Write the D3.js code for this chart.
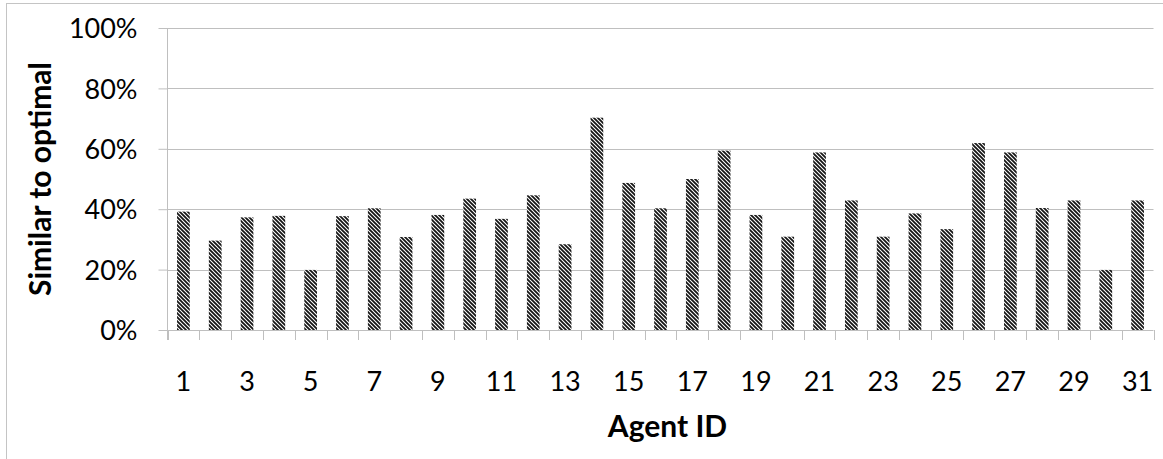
<!DOCTYPE html>
<html>
<head>
<meta charset="utf-8">
<script src="https://cdn.jsdelivr.net/npm/d3@7"></script>
<style>
  html, body { margin: 0; padding: 0; background: #fff; }
  svg { display: block; }
</style>
</head>
<body>
<svg id="chart" width="1163" height="459"></svg>
<script>
// Agent IDs and share of decisions similar to the optimal one
const agentIds = d3.range(1, 32);
const similarity = [0.392, 0.296, 0.373, 0.378, 0.199, 0.377, 0.403, 0.308, 0.381, 0.435,
                    0.368, 0.446, 0.284, 0.703, 0.487, 0.403, 0.500, 0.594, 0.381, 0.309,
                    0.588, 0.429, 0.309, 0.386, 0.334, 0.619, 0.588, 0.404, 0.429, 0.199, 0.429];
const yTicks = [0, 0.2, 0.4, 0.6, 0.8, 1.0];
const xLabelIds = agentIds.filter(d => d % 2 === 1);

const svg = d3.select("#chart");
const W = 1163, H = 459;
const plot = { left: 167.5, right: 1153.5, top: 28, bottom: 330 };
const font = "Lato, 'Open Sans', sans-serif";
const gridColor = "#bfbfbf";

// chart frame
svg.append("rect")
  .attr("x", 6.5).attr("y", 3.5)
  .attr("width", W).attr("height", H)
  .attr("fill", "none").attr("stroke", "#c4c4c4").attr("stroke-width", 1);

// dark downward-diagonal hatch used for the bars
const defs = svg.append("defs");
const pat = defs.append("pattern")
  .attr("id", "hatch")
  .attr("patternUnits", "userSpaceOnUse")
  .attr("width", 4).attr("height", 4);
pat.append("rect").attr("width", 4).attr("height", 4).attr("fill", "#fff");
pat.append("path")
  .attr("d", "M-1,-1 L5,5 M-1,3 L1,5 M3,-1 L5,1")
  .attr("stroke", "#151515").attr("stroke-width", 1.8);

const x = d3.scaleBand()
  .domain(agentIds)
  .range([plot.left, plot.right])
  .paddingInner(0.6)
  .paddingOuter(0.3);

const y = d3.scaleLinear()
  .domain([0, 1])
  .range([plot.bottom, plot.top]);

// horizontal gridlines
svg.append("g")
  .selectAll("line")
  .data(yTicks.filter(d => d > 0))
  .join("line")
  .attr("x1", plot.left).attr("x2", plot.right)
  .attr("y1", d => Math.round(y(d)) + 0.5)
  .attr("y2", d => Math.round(y(d)) + 0.5)
  .attr("stroke", gridColor).attr("stroke-width", 1);

// bars
svg.append("g")
  .selectAll("rect")
  .data(agentIds)
  .join("rect")
  .attr("x", d => x(d))
  .attr("width", x.bandwidth())
  .attr("y", (d, i) => y(similarity[i]))
  .attr("height", (d, i) => y(0) - y(similarity[i]))
  .attr("fill", "url(#hatch)");

// y axis
const yAxis = svg.append("g")
  .attr("transform", `translate(${plot.left},0)`)
  .call(d3.axisLeft(y)
    .tickValues(yTicks)
    .tickFormat(d3.format(".0%"))
    .tickSize(9)
    .tickPadding(21));
yAxis.select(".domain").attr("stroke", gridColor).attr("d", `M0,${plot.top}V${plot.bottom + 10}`);
yAxis.selectAll(".tick line").attr("stroke", gridColor);
yAxis.selectAll(".tick text")
  .attr("font-family", font).attr("font-size", 27).attr("fill", "#000")
  .attr("dy", "0.36em");

// x axis line with category boundary ticks
const step = x.step();
const boundaries = agentIds.map(d => x(d) - (step - x.bandwidth()) / 2).concat([plot.right]);
svg.append("line")
  .attr("x1", plot.left).attr("x2", plot.right)
  .attr("y1", plot.bottom + 0.5).attr("y2", plot.bottom + 0.5)
  .attr("stroke", gridColor);
svg.append("g")
  .selectAll("line")
  .data(boundaries)
  .join("line")
  .attr("x1", d => Math.round(d) + 0.5).attr("x2", d => Math.round(d) + 0.5)
  .attr("y1", plot.bottom).attr("y2", plot.bottom + 10)
  .attr("stroke", gridColor);

// x tick labels (every other agent)
svg.append("g")
  .selectAll("text")
  .data(xLabelIds)
  .join("text")
  .attr("x", d => x(d) + x.bandwidth() / 2)
  .attr("y", 391)
  .attr("text-anchor", "middle")
  .attr("font-family", font).attr("font-size", 27).attr("fill", "#000")
  .text(d => d);

// axis titles
svg.append("text")
  .attr("x", (plot.left + plot.right) / 2 + 7)
  .attr("y", 437)
  .attr("text-anchor", "middle")
  .attr("font-family", font).attr("font-weight", "bold").attr("font-size", 30).attr("fill", "#000")
  .text("Agent ID");

svg.append("text")
  .attr("transform", `translate(51,${(plot.top + plot.bottom) / 2}) rotate(-90)`)
  .attr("text-anchor", "middle")
  .attr("font-family", font).attr("font-weight", "bold").attr("font-size", 30).attr("fill", "#000")
  .text("Similar to optimal");
</script>
</body>
</html>
